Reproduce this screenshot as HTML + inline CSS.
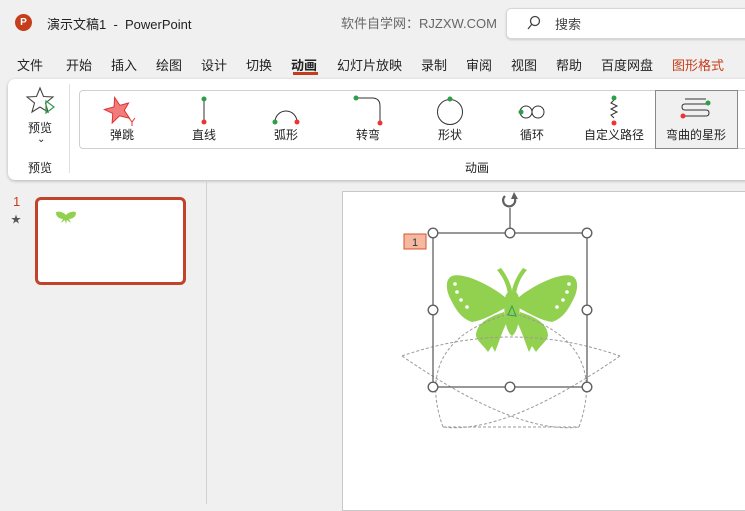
<!DOCTYPE html>
<html><head><meta charset="utf-8"><style>
*{margin:0;padding:0;box-sizing:border-box}
body{width:745px;height:504px;overflow:hidden;background:#f0f0f0;font-family:"Liberation Sans","Noto Sans CJK SC",sans-serif;position:relative;color:#222}
.a{position:absolute;white-space:nowrap}
.m{font-size:13px;top:55px}
.g{font-size:12px;top:126px;transform:translateX(-50%)}
</style></head><body>
<div class="a" style="left:15px;top:14px;width:17px;height:17px;border-radius:50%;background:#c43e1c;color:#fff;font-size:10px;font-weight:bold;text-align:center;line-height:17px">P</div>
<div class="a" style="left:47px;top:14px;font-size:13px">演示文稿1 &nbsp;-&nbsp; PowerPoint</div>
<div class="a" style="left:341px;top:13px;font-size:13px;color:#666">软件自学网：RJZXW.COM</div>
<div class="a" style="left:506px;top:8px;width:245px;height:31px;background:#fff;border:1px solid #d6d6d6;border-radius:5px;box-shadow:0 1px 2px rgba(0,0,0,.15)"></div>
<svg class="a" style="left:526px;top:15px" width="16" height="16"><circle cx="9" cy="6" r="4.5" fill="none" stroke="#444" stroke-width="1.3"/><line x1="6" y1="9" x2="2" y2="14" stroke="#444" stroke-width="1.3"/></svg>
<div class="a" style="left:555px;top:14px;font-size:13px;color:#444">搜索</div>
<div class="a m" style="left:17px">文件</div>
<div class="a m" style="left:66px">开始</div>
<div class="a m" style="left:111px">插入</div>
<div class="a m" style="left:156px">绘图</div>
<div class="a m" style="left:201px">设计</div>
<div class="a m" style="left:246px">切换</div>
<div class="a m" style="left:291px;font-weight:bold">动画</div>
<div class="a" style="left:293px;top:72px;width:25px;height:3px;background:#c43e1c"></div>
<div class="a m" style="left:337px">幻灯片放映</div>
<div class="a m" style="left:421px">录制</div>
<div class="a m" style="left:466px">审阅</div>
<div class="a m" style="left:511px">视图</div>
<div class="a m" style="left:556px">帮助</div>
<div class="a m" style="left:601px">百度网盘</div>
<div class="a m" style="left:672px;color:#c43e1c">图形格式</div>
<div class="a" style="left:8px;top:79px;width:745px;height:101px;background:#fff;border-radius:7px;box-shadow:0 1px 3px rgba(0,0,0,.25)"></div>
<svg class="a" style="left:26px;top:86px" width="32" height="30"><polygon points="14,2 17.5,10.5 27,11 19.5,17 22,26 14,21 6,26 8.5,17 1,11 10.5,10.5" fill="none" stroke="#444" stroke-width="1.1"/><polygon points="20,15 28,21 20,27" fill="none" stroke="#2e9e4a" stroke-width="1.2"/></svg>
<div class="a" style="left:28px;top:119px;font-size:12px">预览</div>
<div class="a" style="left:37px;top:134px;font-size:10px">⌄</div>
<div class="a" style="left:28px;top:159px;font-size:12px">预览</div>
<div class="a" style="left:69px;top:84px;width:1px;height:89px;background:#e0e0e0"></div>
<div class="a" style="left:79px;top:90px;width:680px;height:59px;border:1px solid #d0d0d0;border-radius:4px"></div>
<div class="a" style="left:655px;top:90px;width:83px;height:59px;border:1px solid #888;background:#f0f0f0"></div>
<svg class="a" style="left:79px;top:90px" width="666" height="40">
<polygon points="39,7 42,16 51,16 45,22 48,31 39,26 30,31 33,22 26,16 36,16" transform="rotate(-15 39 20)" fill="#f27c7c" stroke="#d33" stroke-width="1"/>
<path d="M50,28 l3,4 l3,-4 M53,32 v4" stroke="#d33" fill="none" stroke-width="1"/>
<line x1="125" y1="9" x2="125" y2="32" stroke="#333"/><circle cx="125" cy="9" r="2.5" fill="#2e9e4a"/><circle cx="125" cy="32" r="2.5" fill="#e33"/>
<path d="M196,32 A11,11 0 0 1 218,32" fill="none" stroke="#333"/><circle cx="196" cy="32" r="2.5" fill="#2e9e4a"/><circle cx="218" cy="32" r="2.5" fill="#e33"/>
<path d="M277,8 H293 Q301,8 301,16 V33" fill="none" stroke="#333"/><circle cx="277" cy="8" r="2.5" fill="#2e9e4a"/><circle cx="301" cy="33" r="2.5" fill="#e33"/>
<circle cx="371" cy="22" r="12.5" fill="none" stroke="#333"/><circle cx="371" cy="9" r="2.5" fill="#2e9e4a"/>
<circle cx="447" cy="22" r="6" fill="none" stroke="#333"/><circle cx="459" cy="22" r="6" fill="none" stroke="#333"/><circle cx="442" cy="22" r="2.5" fill="#2e9e4a"/>
<path d="M535,10 l-3,3 l6,3 l-6,3 l6,3 l-6,3 l3,3" fill="none" stroke="#333"/><circle cx="535" cy="8" r="2.5" fill="#2e9e4a"/><circle cx="535" cy="33" r="2.5" fill="#e33"/>
<path d="M629,14 H606 Q603,14 603,17 Q603,20 606,20 H627 Q630,20 630,23 Q630,26 627,26 H606" fill="none" stroke="#333"/><path d="M606,9 H627" stroke="#333"/><circle cx="629" cy="13" r="2.5" fill="#2e9e4a"/><circle cx="604" cy="26" r="2.5" fill="#e33"/>
</svg>
<div class="a g" style="left:122px">弹跳</div>
<div class="a g" style="left:204px">直线</div>
<div class="a g" style="left:286px">弧形</div>
<div class="a g" style="left:368px">转弯</div>
<div class="a g" style="left:450px">形状</div>
<div class="a g" style="left:532px">循环</div>
<div class="a g" style="left:614px">自定义路径</div>
<div class="a g" style="left:696px">弯曲的星形</div>
<div class="a" style="left:465px;top:159px;font-size:12px">动画</div>
<div class="a" style="left:206px;top:182px;width:1px;height:322px;background:#d0d0d0"></div>
<div class="a" style="left:13px;top:194px;font-size:13px;color:#c43e1c">1</div>
<div class="a" style="left:11px;top:211px;font-size:10px;color:#555">★</div>
<div class="a" style="left:35px;top:197px;width:151px;height:88px;border:3px solid #c0432a;border-radius:6px;background:#fff"></div>
<svg class="a" style="left:55px;top:211px" width="22" height="14"><path d="M11,4 C7,0 1,0 1,2 C1,6 5,8 8,8 L6,12 L10,9 L11,13 L12,9 L16,12 L14,8 C17,8 21,6 21,2 C21,0 15,0 11,4Z" fill="#92d050"/></svg>
<div class="a" style="left:342px;top:191px;width:410px;height:320px;background:#fff;border:1px solid #c8c8c8"></div>
<svg class="a" style="left:342px;top:180px" width="403" height="324">
<g fill="#92d050">
<path d="M164,118 C150,106 122,92 110,96 C103,99 104,110 108,118 C113,128 118,138 130,142 C142,140 152,134 163,128Z"/>
<path d="M176,118 C190,106 218,92 230,96 C237,99 236,110 232,118 C227,128 222,138 210,142 C198,140 188,134 177,128Z"/>
<path d="M162,132 C146,137 134,144 134,156 C136,162 142,166 146,172 L150,166 L153,172 C157,162 160,152 164,144Z"/>
<path d="M178,132 C194,137 206,144 206,156 C204,162 198,166 194,172 L190,166 L187,172 C183,162 180,152 176,144Z"/>
<path d="M163,118 C161,136 164,152 170,156 C176,152 179,136 177,118 C175,108 165,108 163,118Z"/>
<path d="M166,114 C164,102 160,96 155,90 L159,88 C164,94 168,102 170,110Z"/>
<path d="M174,114 C176,102 180,96 185,90 L181,88 C176,94 172,102 170,110Z"/>
</g>
<g fill="#fff"><circle cx="113" cy="104" r="1.8"/><circle cx="115" cy="112" r="1.8"/><circle cx="119" cy="120" r="1.8"/><circle cx="125" cy="127" r="1.8"/><circle cx="227" cy="104" r="1.8"/><circle cx="225" cy="112" r="1.8"/><circle cx="221" cy="120" r="1.8"/><circle cx="215" cy="127" r="1.8"/></g>
<g fill="none" stroke="#9a9a9a" stroke-width="1" stroke-dasharray="3,2">
<path d="M60,176 Q169,138 278,176"/>
<path d="M60,176 Q175,255 237,247"/>
<path d="M278,176 Q163,255 101,247"/>
<path d="M101,247 L237,247"/>
<path d="M101,247 Q70,160 170,133"/>
<path d="M237,247 Q268,160 170,133"/>
</g>
<polygon points="170,126 174,136 166,135" fill="none" stroke="#2e9e4a" stroke-width="1"/>
<g stroke="#606060" stroke-width="1.3" fill="none">
<rect x="91" y="53" width="154" height="154"/>
<line x1="168" y1="28" x2="168" y2="53"/>
<path d="M163,16 A6,6 0 1 0 173,19" stroke-width="2.2"/>
</g>
<polygon points="172,12 176,19 169,19" fill="#606060"/>
<g fill="#fff" stroke="#606060" stroke-width="1.4">
<circle cx="91" cy="53" r="4.8"/><circle cx="168" cy="53" r="4.8"/><circle cx="245" cy="53" r="4.8"/>
<circle cx="91" cy="130" r="4.8"/><circle cx="245" cy="130" r="4.8"/>
<circle cx="91" cy="207" r="4.8"/><circle cx="168" cy="207" r="4.8"/><circle cx="245" cy="207" r="4.8"/>
</g>
<rect x="62" y="54" width="22" height="15" fill="#f4b9a0" stroke="#d9532c"/>
<text x="73" y="66" font-size="11" text-anchor="middle" fill="#333" font-family="Liberation Sans">1</text>
</svg>
</body></html>
